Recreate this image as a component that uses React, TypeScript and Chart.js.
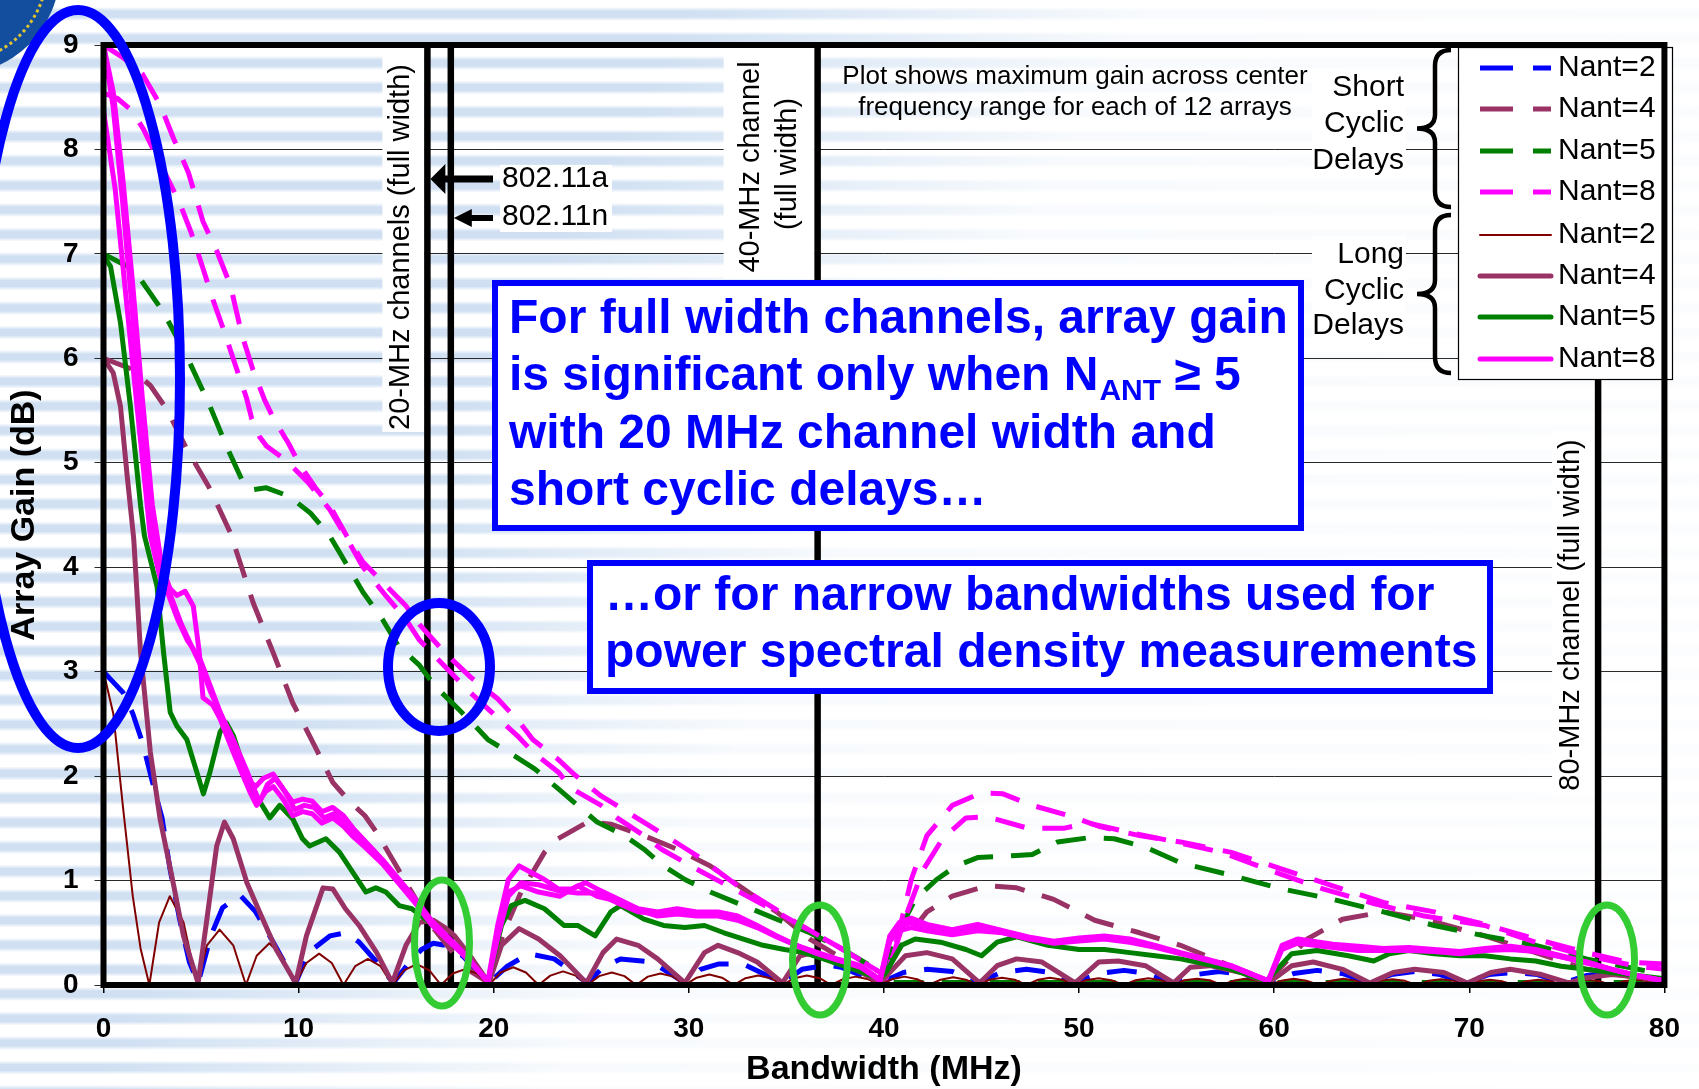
import React, { useEffect, useRef } from "react";
import { Chart, registerables } from "chart.js";
Chart.register(...registerables);

const FONT = '"Liberation Sans", Arial, Helvetica, sans-serif';
const BLUE = "#0000ff";
const MAROON = "#993366";
const GREEN = "#008000";
const MAGENTA = "#ff00ff";
const DARKRED = "#800000";

// ---------- axis ticks ----------
const xTickValues = [0, 10, 20, 30, 40, 50, 60, 70, 80];
const yTickValues = [0, 1, 2, 3, 4, 5, 6, 7, 8, 9];

// ---------- short cyclic delays (dashed) ----------
const shortN2X = [0,0.5,1,1.5,2,2.5,3,3.4,3.9,4.4,4.85, 5.5,6.1,7.0,7.8,8.7,9.85, 10.5,11.6,12.4,13.1,14.0,14.85, 15.6,16.3,16.9,17.5,18.4,19.75, 20.7,21.8,23.1,24.8, 25.6,26.5,28.1,29.8, 30.6,31.5,32.8,34.8, 35.8,37.1,37.8,39.8, 41.0,42.2,43.5,44.8, 46.0,47.3,48.5,49.8, 51.0,52.3,53.5,54.8, 56.0,57.2,58.3,59.7, 61.0,62.2,63.5,64.8, 66.0,67.2,68.5,69.8, 71.0,72.2,73.5,74.8, 76.0,77.2,78.5,79.8, 80];
const shortN2Y = [3.0,2.9,2.8,2.6,2.32,1.95,1.6,1.12,0.63,0.22,0.02, 0.47,0.74,0.86,0.7,0.41,0.02, 0.31,0.47,0.5,0.41,0.22,0.02, 0.2,0.34,0.4,0.38,0.28,0.02, 0.18,0.3,0.25,0.02, 0.17,0.25,0.22,0.02, 0.15,0.2,0.2,0.02, 0.15,0.19,0.17,0.02, 0.12,0.15,0.13,0.02, 0.12,0.15,0.12,0.02, 0.11,0.14,0.11,0.02, 0.1,0.13,0.1,0.02, 0.11,0.14,0.11,0.02, 0.1,0.13,0.1,0.02, 0.1,0.12,0.1,0.02, 0.09,0.11,0.09,0.02, 0.02];

const shortN4X = [0,1.4,2.4,3.25,4.27,5.46,6.5,7.67,8.7,9.7,10.9,11.75,12.6,13.4,14.0,15.1,16.2,16.8,17.9,18.9,19.75,20.5,21.4,22.6,23.3,24.8,26.0,27.7,29.4,31.1,32.8,34.5,36.2,37.9,39.8,41.1,42.2,43.5,45.3,46.8,48.7,50.8,53.1,55.2,57.8,59.7,61.7,63.5,65.6,67.7,70.8,73.4,76.0,80];
const shortN4Y = [6.0,5.9,5.74,5.51,5.13,4.75,4.33,3.66,3.18,2.7,2.26,1.94,1.76,1.62,1.46,1.11,0.76,0.57,0.31,0.12,0.02,0.5,0.89,1.27,1.4,1.56,1.54,1.43,1.3,1.14,0.92,0.7,0.44,0.25,0.04,0.44,0.7,0.85,0.95,0.93,0.82,0.62,0.5,0.38,0.18,0.04,0.44,0.63,0.7,0.63,0.47,0.31,0.15,0.03];

const shortN5X = [0,1.55,3.08,4.27,5.46,6.3,7.16,7.6,8.35,9.5,10.6,11.6,12.1,13.3,14.3,15.1,16.2,17.0,18.2,18.9,19.7,21.1,22.1,23.3,24.3,25.3,26.7,27.7,28.7,29.8,31.1,32.8,34.5,36.2,37.9,39.6,40.0,40.6,41.6,42.7,43.7,44.8,46.8,47.6,48.9,50.5,51.8,53.4,55.2,57.8,60.4,63.0,65.6,68.2,70.8,73.4,76.0,80];
const shortN5Y = [7.0,6.85,6.44,6.02,5.54,5.16,4.81,4.74,4.76,4.68,4.52,4.3,4.14,3.76,3.5,3.25,3.06,2.86,2.64,2.51,2.35,2.19,2.07,1.88,1.72,1.56,1.43,1.3,1.14,1.01,0.89,0.76,0.63,0.5,0.34,0.15,0.1,0.45,0.82,1.01,1.14,1.22,1.24,1.25,1.37,1.41,1.4,1.32,1.17,1.05,0.92,0.82,0.7,0.57,0.47,0.38,0.25,0.1];

const shortN5bX = [40.5, 80];
const shortN5bY = [0.025, 0.025];

const shortN8aX = [0,1.0,2.0,2.9,3.6,4.35,5.1,5.8,6.5,7.1,7.66,8.26,8.7,9.5,10.0,10.9,11.6,12.4,13.3,14.5,15.5,16.2,17.5,18.8,20.2,21.35,22.0,23.3,24.1,25.5,26.3,28.2,30.4,32.5,34.5,35.2,37.9,39.8,40.1,40.6,41.4,42.2,43.5,45.0,46.1,47.6,49.5,51.0,53.1,55.2,57.8,60.4,63.0,65.6,68.2,70.8,73.4,76.0,78.1,80];
const shortN8aY = [9.0,8.88,8.72,8.43,8.1,7.78,7.31,7.03,6.7,6.22,5.89,5.6,5.43,5.18,5.0,4.75,4.59,4.32,4.05,3.82,3.63,3.45,3.18,2.95,2.74,2.51,2.35,2.16,2.02,1.81,1.72,1.5,1.24,0.95,0.72,0.63,0.34,0.12,0.08,0.38,1.01,1.43,1.72,1.84,1.83,1.72,1.62,1.52,1.43,1.37,1.27,1.11,0.95,0.79,0.7,0.58,0.44,0.31,0.22,0.2];

const shortN8bX = [0,0.7,1.46,2.06,2.8,3.4,3.9,4.5,5.03,5.63,6.2,6.73,7.33,7.6,8.0,8.35,9.37,10.5,11.6,12.4,13.3,14.5,15.5,16.2,17.5,18.8,19.9,21.3,22.0,23.3,24.0,25.5,26.4,27.7,28.6,30.1,32.5,34.5,37.9,39.8,40.1,41.0,42.0,43.0,44.2,45.3,47.4,49.2,50.5,52.6,54.7,57.3,59.9,62.5,65.1,67.7,70.8,73.4,76.0,78.6,80];
const shortN8bY = [8.54,8.49,8.37,8.19,7.9,7.68,7.49,7.2,6.9,6.55,6.25,5.95,5.62,5.42,5.25,5.16,5.02,4.81,4.55,4.3,4.0,3.72,3.5,3.3,3.05,2.8,2.61,2.37,2.23,2.04,1.88,1.72,1.59,1.43,1.3,1.14,0.9,0.7,0.34,0.12,0.06,0.6,1.1,1.4,1.6,1.61,1.5,1.5,1.55,1.46,1.38,1.27,1.09,0.92,0.78,0.66,0.57,0.41,0.28,0.18,0.15];

// ---------- long cyclic delays (solid) ----------
const longN2X = [0,0.5,1.0,1.5,1.9,2.35, 2.85,3.4,4.1,4.8, 5.3,5.95,6.65,7.3, 7.85,8.5,9.15,9.8, 10.4,11.05,11.7,12.3, 12.9,13.55,14.2,14.8, 15.4,16.05,16.7,17.3, 17.9,18.5,19.15,19.75, 20.35,21.0,21.65,22.3, 22.9,23.55,24.2,24.8, 25.4,26.05,26.7,27.3, 27.9,28.55,29.2,29.8, 30.4,31.05,31.7,32.3, 32.9,33.55,34.2,34.8, 35.4,36.05,36.7,37.3, 37.9,38.55,39.2,39.8, 40.4,41.05,41.7,42.3, 42.9,43.55,44.2,44.8, 45.4,46.05,46.7,47.3, 47.9,48.5,49.15,49.75, 50.35,51.0,51.65,52.3, 52.9,53.55,54.2,54.8, 55.4,56.05,56.7,57.3, 57.9,58.5,59.15,59.75, 60.35,61.0,61.65,62.3, 62.9,63.55,64.2,64.8, 65.4,66.05,66.7,67.3, 67.9,68.55,69.2,69.8, 70.4,71.05,71.7,72.3, 72.9,73.55,74.2,74.8, 75.4,76.05,76.7,77.3, 77.9,78.55,79.2,79.8, 80];
const longN2Y = [3.0,2.6,1.7,0.85,0.35,0, 0.6,0.85,0.6,0, 0.38,0.53,0.38,0, 0.28,0.4,0.28,0, 0.21,0.3,0.21,0, 0.18,0.25,0.18,0, 0.14,0.2,0.14,0, 0.11,0.15,0.11,0, 0.12,0.17,0.12,0, 0.09,0.13,0.09,0, 0.085,0.12,0.085,0, 0.08,0.11,0.08,0, 0.07,0.1,0.07,0, 0.065,0.09,0.065,0, 0.065,0.09,0.065,0, 0.055,0.08,0.055,0, 0.055,0.08,0.055,0, 0.05,0.075,0.05,0, 0.05,0.07,0.05,0, 0.05,0.07,0.05,0, 0.045,0.065,0.045,0, 0.045,0.065,0.045,0, 0.045,0.06,0.045,0, 0.04,0.06,0.04,0, 0.04,0.06,0.04,0, 0.04,0.06,0.04,0, 0.04,0.055,0.04,0, 0.04,0.055,0.04,0, 0.035,0.05,0.035,0, 0.035,0.05,0.035,0, 0.035,0.05,0.035,0, 0.035,0.05,0.035,0, 0.02];

const longN4X = [0,0.5,0.87,1.2,1.55,1.9,2.4,2.9,3.6,4.1,4.85,5.3,5.8,6.2,6.65,7.35,8.0,8.85,9.85,10.4,11.25,11.75,12.4,13.1,14.0,14.8,15.5,16.2,16.9,17.5,18.0,18.9,19.75,20.4,21.3,22.3,23.4,24.75,25.6,26.3,27.4,28.4,29.8,30.8,31.5,32.5,33.5,34.8,35.7,36.4,37.9,39.8,41.1,42.2,43.5,44.9,45.8,46.8,48.1,49.8,51.0,52.0,53.4,54.85,55.7,56.7,58.3,59.7,60.9,62.0,63.5,64.9,66.1,67.2,68.7,69.9,71.1,72.1,73.7,75.1,76.0,77.3,78.5,80];
const longN4Y = [6.0,5.86,5.54,4.9,4.27,3.18,2.23,1.59,0.95,0.47,0.02,0.63,1.33,1.56,1.4,0.98,0.7,0.34,0.02,0.47,0.93,0.92,0.73,0.57,0.31,0.02,0.38,0.6,0.62,0.55,0.47,0.25,0.02,0.38,0.54,0.44,0.28,0.02,0.31,0.44,0.38,0.25,0.02,0.31,0.38,0.31,0.22,0.02,0.28,0.31,0.22,0.02,0.28,0.31,0.25,0.02,0.185,0.25,0.22,0.02,0.22,0.23,0.185,0.02,0.17,0.185,0.12,0.02,0.185,0.22,0.15,0.02,0.12,0.15,0.12,0.02,0.12,0.15,0.1,0.02,0.07,0.1,0.08,0.03];

const longN5X = [0,0.36,0.87,1.38,1.9,2.1,2.74,3.08,3.42,3.76,4.27,4.78,5.12,5.46,5.97,6.3,6.65,7.16,7.84,8.52,9.03,9.7,10.2,10.56,11.4,12.1,12.77,13.45,13.96,14.47,15.15,15.8,16.5,17.5,18.5,19.7,20.4,20.9,21.6,22.6,23.6,24.3,25.2,26.0,26.5,27.7,28.7,29.8,30.8,31.8,32.8,33.8,34.9,35.9,36.9,37.9,38.9,39.8,40.1,40.9,41.6,42.9,44.2,45.0,45.8,46.8,48.4,50.0,51.3,52.6,53.9,55.2,57.8,59.6,60.9,62.2,63.8,65.1,65.9,66.9,68.2,69.5,70.8,72.1,73.4,74.7,76.0,77.3,78.6,80];
const longN5Y = [6.98,6.88,6.34,5.54,4.59,4.3,3.82,3.18,2.61,2.48,2.35,2.04,1.83,2.04,2.42,2.51,2.39,2.1,1.81,1.6,1.72,1.59,1.4,1.33,1.4,1.27,1.08,0.89,0.93,0.89,0.76,0.73,0.63,0.47,0.28,0.03,0.57,0.76,0.81,0.73,0.57,0.57,0.47,0.7,0.76,0.63,0.57,0.55,0.57,0.5,0.44,0.38,0.34,0.31,0.25,0.185,0.12,0.06,0.12,0.38,0.44,0.41,0.34,0.28,0.41,0.46,0.38,0.34,0.34,0.31,0.28,0.25,0.15,0.04,0.3,0.33,0.28,0.23,0.3,0.33,0.3,0.28,0.28,0.25,0.23,0.18,0.15,0.12,0.09,0.06];

const longN8aX = [0,0.5,1.0,1.5,2.0,2.5,3.0,3.5,4.0,4.5,5.0,5.5,6.0,6.5,7.0,7.5,7.8,8.2,8.7,9.2,9.7,10.2,10.7,11.2,11.75,12.3,12.8,13.4,14.3,15.1,16.0,16.8,17.7,18.6,19.7,20.2,20.75,21.3,21.9,22.6,23.3,24.0,24.7,25.3,26.4,27.4,28.4,29.4,30.4,31.5,32.5,33.5,34.5,35.5,36.6,37.6,38.8,39.8,40.3,40.8,41.4,42.2,43.5,44.8,46.1,47.4,48.7,50.0,51.3,52.6,53.9,55.2,56.5,57.8,59.7,60.4,61.2,63.0,64.3,65.6,66.9,68.2,69.5,70.8,72.1,73.4,74.7,76.0,77.3,78.6,80];
const longN8aY = [9.0,8.4,7.46,6.4,5.3,4.4,3.95,3.7,3.45,3.25,3.05,2.8,2.6,2.35,2.12,1.95,1.9,1.98,2.02,1.88,1.75,1.78,1.76,1.66,1.7,1.62,1.5,1.38,1.2,1.02,0.82,0.62,0.45,0.28,0.03,0.57,1.01,1.14,1.08,1.01,0.92,0.92,0.98,0.92,0.82,0.73,0.7,0.73,0.7,0.7,0.66,0.57,0.47,0.38,0.31,0.25,0.185,0.05,0.47,0.6,0.64,0.58,0.53,0.58,0.52,0.46,0.42,0.45,0.47,0.44,0.38,0.31,0.25,0.185,0.04,0.38,0.44,0.39,0.37,0.35,0.36,0.34,0.32,0.35,0.37,0.34,0.28,0.22,0.15,0.09,0.04];

const longN8bX = [0,0.6,1.2,1.8,2.4,2.9,3.3,3.8,4.3,4.95,5.5,6.0,6.65,7.3,7.8,8.0,8.4,8.8,9.3,9.8,10.3,10.8,11.3,11.8,12.3,12.8,13.4,14.3,15.1,16.0,16.8,17.7,18.6,19.7,20.2,20.75,21.4,22.3,23.4,24.3,25.3,26.4,27.4,28.4,29.4,30.4,31.5,32.5,33.5,34.5,35.5,36.6,37.6,38.8,39.8,40.3,40.8,41.4,42.2,43.5,44.8,46.1,47.4,48.7,50.0,51.3,52.6,53.9,55.2,56.5,57.8,59.7,60.4,61.2,63.0,64.3,65.6,66.9,68.2,69.5,70.8,72.1,73.4,74.7,76.0,77.3,78.6,80];
const longN8bY = [8.37,7.62,6.5,5.39,4.3,3.9,3.75,3.5,3.3,3.12,2.85,2.6,2.35,2.07,1.84,1.75,1.92,1.98,1.85,1.68,1.72,1.7,1.6,1.64,1.56,1.46,1.34,1.18,1.0,0.8,0.6,0.44,0.27,0.03,0.5,0.89,0.95,0.89,0.85,0.95,0.85,0.8,0.72,0.66,0.68,0.66,0.66,0.62,0.55,0.46,0.38,0.3,0.24,0.17,0.04,0.42,0.52,0.55,0.52,0.48,0.52,0.5,0.45,0.4,0.42,0.44,0.41,0.36,0.3,0.24,0.18,0.04,0.34,0.4,0.36,0.33,0.33,0.33,0.32,0.3,0.33,0.34,0.32,0.27,0.21,0.15,0.09,0.04];

const longN8cX = [0,0.5,1.0,1.5,2.0,2.5,3.0,3.4,3.76,4.18,4.6,4.9,5.1,5.6,5.97,6.5,7.0,7.5,7.85,8.3,8.7,9.2,9.7,10.2,10.7,11.2,11.75,12.3,12.8,13.4,14.3,15.1,16.0,16.8,17.7,18.6,19.7,20.2,20.75,21.4,22.3,23.4,24.3,25.3,26.4,27.4,28.4,29.4,30.4,31.5,32.5,33.5,34.5,35.5,36.6,37.6,38.8,39.8,40.3,40.8,41.4,42.2,43.5,44.8,46.1,47.4,48.7,50.0,51.3,52.6,53.9,55.2,56.5,57.8,59.7,60.4,61.2,63.0,64.3,65.6,66.9,68.2,69.5,70.8,72.1,73.4,74.7,76.0,77.3,78.6,80];
const longN8cY = [9.0,8.55,7.7,6.7,5.6,4.6,4.0,3.8,3.73,3.77,3.63,3.2,2.75,2.68,2.55,2.3,2.07,1.85,1.72,1.85,1.9,1.78,1.62,1.66,1.64,1.55,1.6,1.52,1.42,1.32,1.16,0.98,0.78,0.58,0.42,0.26,0.03,0.45,0.85,0.98,0.96,0.9,0.88,0.88,0.78,0.7,0.68,0.7,0.68,0.67,0.64,0.56,0.47,0.38,0.3,0.24,0.18,0.05,0.44,0.56,0.6,0.56,0.5,0.55,0.5,0.44,0.41,0.43,0.45,0.42,0.37,0.3,0.24,0.18,0.04,0.36,0.42,0.38,0.35,0.34,0.35,0.33,0.31,0.34,0.36,0.33,0.27,0.22,0.15,0.09,0.04];

// ---------- channel widths (MHz) ----------
const channelWidths = [16.6, 17.8, 36.6, 76.6];

// ---------- legend ----------
const legendLabels = ["Nant=2", "Nant=4", "Nant=5", "Nant=8", "Nant=2", "Nant=4", "Nant=5", "Nant=8"];
const legendColors = [BLUE, MAROON, GREEN, MAGENTA, DARKRED, MAROON, GREEN, MAGENTA];
const legendDashed = [true, true, true, true, false, false, false, false];
const legendWidths = [5, 5, 5, 5, 2, 5, 5, 5];

const DASH = [30, 18];

type SeriesDef = { label: string; xs: number[]; ys: number[]; color: string; width: number; dashed: boolean };

const seriesDefs: SeriesDef[] = [
  { label: "Short Nant=2", xs: shortN2X, ys: shortN2Y, color: BLUE, width: 5, dashed: true },
  { label: "Short Nant=4", xs: shortN4X, ys: shortN4Y, color: MAROON, width: 5, dashed: true },
  { label: "Short Nant=5", xs: shortN5X, ys: shortN5Y, color: GREEN, width: 5, dashed: true },
  { label: "Short Nant=5 (b)", xs: shortN5bX, ys: shortN5bY, color: GREEN, width: 5, dashed: true },
  { label: "Short Nant=8 (a)", xs: shortN8aX, ys: shortN8aY, color: MAGENTA, width: 5, dashed: true },
  { label: "Short Nant=8 (b)", xs: shortN8bX, ys: shortN8bY, color: MAGENTA, width: 5, dashed: true },
  { label: "Long Nant=2", xs: longN2X, ys: longN2Y, color: DARKRED, width: 2, dashed: false },
  { label: "Long Nant=4", xs: longN4X, ys: longN4Y, color: MAROON, width: 5, dashed: false },
  { label: "Long Nant=5", xs: longN5X, ys: longN5Y, color: GREEN, width: 5, dashed: false },
  { label: "Long Nant=8 (a)", xs: longN8aX, ys: longN8aY, color: MAGENTA, width: 5, dashed: false },
  { label: "Long Nant=8 (b)", xs: longN8bX, ys: longN8bY, color: MAGENTA, width: 5, dashed: false },
  { label: "Long Nant=8 (c)", xs: longN8cX, ys: longN8cY, color: MAGENTA, width: 5, dashed: false },
];

function pts(xs: number[], ys: number[]) {
  const n = Math.min(xs.length, ys.length);
  const out: { x: number; y: number }[] = [];
  for (let i = 0; i < n; i++) out.push({ x: xs[i], y: ys[i] });
  return out;
}

function vtext(ctx: CanvasRenderingContext2D, text: string, cx: number, cy: number, font: string) {
  ctx.save();
  ctx.translate(cx, cy);
  ctx.rotate(-Math.PI / 2);
  ctx.font = font;
  ctx.textAlign = "center";
  ctx.textBaseline = "middle";
  ctx.fillStyle = "#000";
  ctx.fillText(text, 0, 0);
  ctx.restore();
}

function arrow(ctx: CanvasRenderingContext2D, tipX: number, y: number, endX: number, shaft: number, headLen: number, headHalf: number) {
  ctx.fillStyle = "#000";
  ctx.fillRect(tipX + headLen - 1, y - shaft / 2, endX - tipX - headLen + 1, shaft);
  ctx.beginPath();
  ctx.moveTo(tipX, y);
  ctx.lineTo(tipX + headLen, y - headHalf);
  ctx.lineTo(tipX + headLen, y + headHalf);
  ctx.closePath();
  ctx.fill();
}

function brace(ctx: CanvasRenderingContext2D, xr: number, yTop: number, yBot: number, xTip: number) {
  const ym = (yTop + yBot) / 2;
  const xm = (xr + xTip) / 2 + 1;
  ctx.beginPath();
  ctx.moveTo(xr, yTop);
  ctx.quadraticCurveTo(xm, yTop, xm, yTop + 16);
  ctx.lineTo(xm, ym - 14);
  ctx.quadraticCurveTo(xm, ym, xTip, ym);
  ctx.quadraticCurveTo(xm, ym, xm, ym + 14);
  ctx.lineTo(xm, yBot - 16);
  ctx.quadraticCurveTo(xm, yBot, xr, yBot);
  ctx.stroke();
}

const overlayPlugin = {
  id: "overlayPlugin",
  beforeDatasetsDraw(chart: any) {
    const ctx: CanvasRenderingContext2D = chart.ctx;
    const a = chart.chartArea;
    const sx = chart.scales.x;
    const p = (v: number) => sx.getPixelForValue(v);
    const l20 = p(channelWidths[0]);
    const l20n = p(channelWidths[1]);
    const l40 = p(channelWidths[2]);
    const l80 = p(channelWidths[3]);
    ctx.save();
    // white label backgrounds
    ctx.fillStyle = "#fff";
    ctx.fillRect(l20 - 45, a.top + 3, 42, 384);
    ctx.fillRect(l40 - 94, a.top + 3, 91, 231);
    ctx.fillRect(l80 - 46, 430, 43, 367);
    ctx.fillRect(500, 165, 112, 31);
    ctx.fillRect(500, 201, 112, 31);
    ctx.fillRect(1312, 68, 94, 112);
    ctx.fillRect(1312, 236, 94, 110);
    // channel width lines
    ctx.strokeStyle = "#000";
    ctx.lineWidth = 6.5;
    for (const v of channelWidths) {
      const x = p(v);
      ctx.beginPath();
      ctx.moveTo(x, a.top);
      ctx.lineTo(x, a.bottom);
      ctx.stroke();
    }
    // rotated labels
    const f29 = "29px " + FONT;
    vtext(ctx, "20-MHz channels (full width)", l20 - 26, 247, f29);
    vtext(ctx, "40-MHz channel", l40 - 67, 167, f29);
    vtext(ctx, "(full width)", l40 - 30, 164, f29);
    vtext(ctx, "80-MHz channel (full width)", l80 - 27, 615, f29);
    // arrows
    arrow(ctx, l20 + 3, 179, 493, 7, 15, 15);
    arrow(ctx, l20n + 3, 218, 493, 6, 18, 9);
    ctx.fillStyle = "#000";
    ctx.font = "30px " + FONT;
    ctx.textAlign = "left";
    ctx.textBaseline = "middle";
    ctx.fillText("802.11a", 502, 179);
    ctx.fillText("802.11n", 502, 217);
    // plot note
    ctx.font = "26px " + FONT;
    ctx.textAlign = "center";
    ctx.fillText("Plot shows maximum gain across center", 1075, 77);
    ctx.fillText("frequency range for each of 12 arrays", 1075, 108);
    // short / long labels
    ctx.font = "30px " + FONT;
    ctx.textAlign = "right";
    ctx.fillText("Short", 1404, 88);
    ctx.fillText("Cyclic", 1404, 124);
    ctx.fillText("Delays", 1404, 161);
    ctx.fillText("Long", 1404, 255);
    ctx.fillText("Cyclic", 1404, 291);
    ctx.fillText("Delays", 1404, 326);
    ctx.restore();
  },
  afterDatasetsDraw(chart: any) {
    const ctx: CanvasRenderingContext2D = chart.ctx;
    const a = chart.chartArea;
    ctx.save();
    // blue text boxes
    ctx.fillStyle = "#fff";
    ctx.strokeStyle = BLUE;
    ctx.lineWidth = 6;
    ctx.fillRect(495, 283, 806, 245);
    ctx.strokeRect(495, 283, 806, 245);
    ctx.fillRect(590, 563, 900, 128);
    ctx.strokeRect(590, 563, 900, 128);
    ctx.fillStyle = BLUE;
    ctx.textAlign = "left";
    ctx.textBaseline = "alphabetic";
    const b48 = "bold 48px " + FONT;
    ctx.font = b48;
    ctx.fillText("For full width channels, array gain", 509, 333);
    const t1 = "is significant only when N";
    ctx.fillText(t1, 509, 390);
    let x = 509 + ctx.measureText(t1).width + 1;
    ctx.font = "bold 30px " + FONT;
    ctx.fillText("ANT", x, 400);
    x += ctx.measureText("ANT").width;
    ctx.font = b48;
    ctx.fillText(" \u2265 5", x, 390);
    ctx.fillText("with 20 MHz channel width and", 509, 448);
    ctx.fillText("short cyclic delays\u2026", 509, 505);
    ctx.fillText("\u2026or for narrow bandwidths used for", 605, 610);
    ctx.fillText("power spectral density measurements", 605, 667);

    // legend
    ctx.fillStyle = "#fff";
    ctx.fillRect(1458.5, 47.5, 214, 332);
    ctx.strokeStyle = "#000";
    ctx.lineWidth = 1.2;
    ctx.strokeRect(1458.5, 47.5, 214, 332);
    const legendYs = [68, 109, 151, 192, 235, 276, 317, 359];
    for (let i = 0; i < legendLabels.length; i++) {
      const y = legendYs[i];
      ctx.strokeStyle = legendColors[i];
      ctx.lineWidth = legendWidths[i];
      ctx.lineCap = legendDashed[i] ? "butt" : "round";
      ctx.setLineDash(legendDashed[i] ? [33, 20] : []);
      ctx.beginPath();
      ctx.moveTo(1480, y);
      ctx.lineTo(1551, y);
      ctx.stroke();
      ctx.setLineDash([]);
      ctx.fillStyle = "#000";
      ctx.font = "30px " + FONT;
      ctx.textAlign = "left";
      ctx.textBaseline = "middle";
      ctx.fillText(legendLabels[i], 1558, y);
    }
    ctx.lineCap = "butt";

    // braces
    ctx.strokeStyle = "#000";
    ctx.lineWidth = 4.5;
    brace(ctx, 1451, 50, 207, 1417);
    brace(ctx, 1451, 215, 373, 1417);

    // plot frame
    ctx.strokeStyle = "#000";
    ctx.lineWidth = 6;
    ctx.strokeRect(a.left, a.top, a.right - a.left, a.bottom - a.top);
    ctx.restore();
  },
  afterDraw(chart: any) {
    const ctx: CanvasRenderingContext2D = chart.ctx;
    ctx.save();
    // corner logo fragment
    ctx.fillStyle = "#124d9e";
    ctx.beginPath();
    ctx.arc(-45, -30, 105, 0, Math.PI * 2);
    ctx.fill();
    ctx.strokeStyle = "#e0c430";
    ctx.lineWidth = 3;
    ctx.setLineDash([3, 3]);
    ctx.beginPath();
    ctx.arc(-45, -30, 92, 0.25, 1.2);
    ctx.stroke();
    ctx.setLineDash([]);
    // highlight ellipses
    ctx.strokeStyle = BLUE;
    ctx.lineWidth = 10;
    ctx.beginPath();
    ctx.ellipse(78, 379, 102, 369, 0, 0, Math.PI * 2);
    ctx.stroke();
    ctx.beginPath();
    ctx.ellipse(439, 667, 51, 64, 0, 0, Math.PI * 2);
    ctx.stroke();
    ctx.strokeStyle = "#33cc33";
    ctx.lineWidth = 7;
    const ge = [
      [442, 943, 27.5, 63],
      [820, 960, 27.5, 55],
      [1607, 960, 27.5, 55],
    ];
    for (const e of ge) {
      ctx.beginPath();
      ctx.ellipse(e[0], e[1], e[2], e[3], 0, 0, Math.PI * 2);
      ctx.stroke();
    }
    ctx.restore();
  },
};

export default function App() {
  const canvasRef = useRef<HTMLCanvasElement | null>(null);

  useEffect(() => {
    const canvas = canvasRef.current;
    if (!canvas) return;
    const datasets = seriesDefs.map((s, i) => ({
      label: s.label,
      data: pts(s.xs, s.ys),
      borderColor: s.color,
      backgroundColor: s.color,
      borderWidth: s.width,
      borderDash: s.dashed ? DASH : [],
      borderCapStyle: "butt",
      borderJoinStyle: "round",
      pointRadius: 0,
      pointHoverRadius: 0,
      fill: false,
      tension: 0,
      order: -i,
    }));
    const tickFont = { family: FONT, size: 28, weight: "bold" as const, lineHeight: 1.2 };
    const titleFont = { family: FONT, size: 34, weight: "bold" as const, lineHeight: 1 };
    const chart = new Chart(canvas, {
      type: "line",
      data: { datasets: datasets as any },
      options: {
        responsive: false,
        animation: false,
        devicePixelRatio: 1,
        events: [],
        layout: { padding: { top: 45, right: 26, left: 0, bottom: 0 } },
        plugins: { legend: { display: false }, tooltip: { enabled: false } },
        scales: {
          x: {
            type: "linear",
            min: xTickValues[0],
            max: xTickValues[xTickValues.length - 1],
            afterBuildTicks: (scale: any) => {
              scale.ticks = xTickValues.map((v) => ({ value: v }));
            },
            ticks: { color: "#000", font: tickFont, padding: 19, maxRotation: 0, autoSkip: false },
            grid: { drawOnChartArea: false, drawTicks: true, tickLength: 8, color: "#000", lineWidth: 1.5 },
            border: { display: false },
            title: { display: true, text: "Bandwidth (MHz)", color: "#000", font: titleFont, padding: { top: 0, bottom: 2 } },
            afterFit: (scale: any) => {
              scale.height = 104;
            },
          },
          y: {
            type: "linear",
            min: yTickValues[0],
            max: yTickValues[yTickValues.length - 1],
            afterBuildTicks: (scale: any) => {
              scale.ticks = yTickValues.map((v) => ({ value: v }));
            },
            ticks: { color: "#000", font: tickFont, padding: 16 },
            grid: { color: "#2a2a2a", lineWidth: 1, tickLength: 9, drawTicks: true },
            border: { display: false },
            title: { display: true, text: "Array Gain (dB)", color: "#000", font: titleFont, padding: { top: 8, bottom: 0 } },
            afterFit: (scale: any) => {
              scale.width = 103.5;
            },
          },
        },
      } as any,
      plugins: [overlayPlugin as any],
    });
    return () => chart.destroy();
  }, []);

  const bg =
    "linear-gradient(119deg, rgba(255,255,255,0) 0%, rgba(255,255,255,0) 30%, rgba(255,255,255,0.85) 50%, rgba(255,255,255,0.95) 100%), " +
    "repeating-linear-gradient(180deg, #ffffff 0px, #ffffff 7px, #d0e0f2 11px, #d0e0f2 17px, #ffffff 21px, #ffffff 24.5px)";

  return (
    <div
      style={{
        position: "absolute",
        left: 0,
        top: 0,
        width: 1699,
        height: 1089,
        overflow: "hidden",
        background: bg,
      }}
    >
      <canvas ref={canvasRef} width={1699} height={1089} style={{ display: "block" }} />
    </div>
  );
}
